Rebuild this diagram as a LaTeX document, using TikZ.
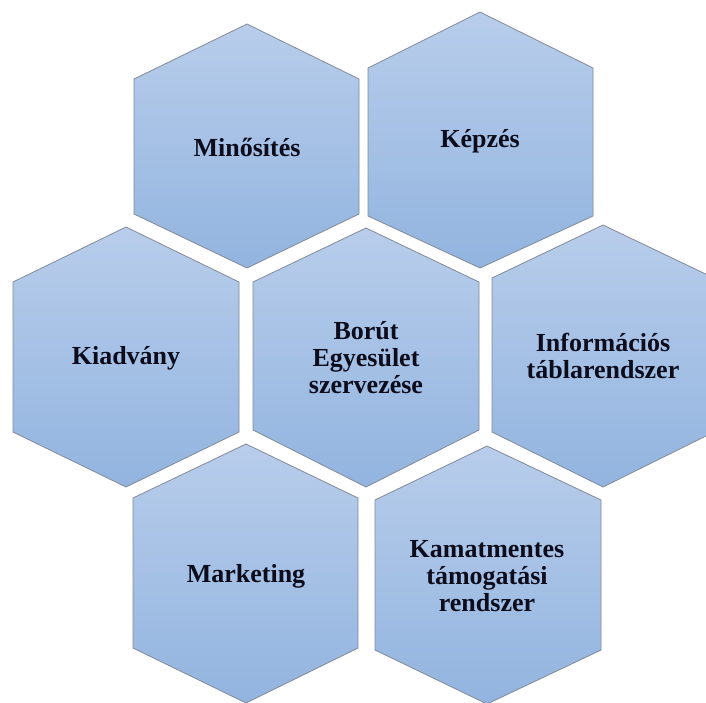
\documentclass[tikz,border=0pt]{standalone}
\usepackage{fontspec}
\setmainfont{Liberation Serif}
\definecolor{hextop}{RGB}{184,205,235}
\definecolor{hexbot}{RGB}{146,180,223}
\definecolor{hexline}{RGB}{130,138,152}
\definecolor{hextext}{RGB}{12,12,28}
\tikzset{
  hexshape/.style={draw=hexline, line width=0.8pt, top color=hextop, bottom color=hexbot, line join=miter},
  hexlabel/.style={inner sep=0pt, align=center, text=hextext, font=\bfseries\fontsize{26}{27}\selectfont}
}
% #1 cx, #2 left, #3 right, #4 top, #5 upper, #6 lower, #7 bottom
\newcommand\hexcell[7]{%
  \path[hexshape] (#1,#4) -- (#3,#5) -- (#3,#6) -- (#1,#7) -- (#2,#6) -- (#2,#5) -- cycle;
}
\begin{document}
\begin{tikzpicture}[x=1pt,y=-1pt]
\useasboundingbox (0,0) rectangle (706,702);
\fill[white] (0,0) rectangle (706,702);
\hexcell{247}{134}{359}{24}{79}{214}{268}
\hexcell{480}{368}{593}{12}{68}{216}{268}
\hexcell{126}{13}{239}{227}{282}{432}{487}
\hexcell{366}{253}{479}{228}{282}{430}{487}
\hexcell{603}{492}{714}{225}{278}{432}{487}
\hexcell{246}{133}{358}{444}{498}{648}{703}
\hexcell{487}{375}{601}{446}{500}{650}{704}
\node[hexlabel] (minosites) at (247,147) {Minősítés};
\node[hexlabel] (kepzes) at (480,141) {Képzés};
\node[hexlabel] (kiadvany) at (126,358) {Kiadvány};
\node[hexlabel] (borut) at (366,358) {Borút\\Egyesület\\szervezése};
\node[hexlabel] (info) at (603,356) {Információs\\táblarendszer};
\node[hexlabel] (marketing) at (246,576) {Marketing};
\node[hexlabel] (kamat) at (487,576) {Kamatmentes\\támogatási\\rendszer};
\end{tikzpicture}
\end{document}
